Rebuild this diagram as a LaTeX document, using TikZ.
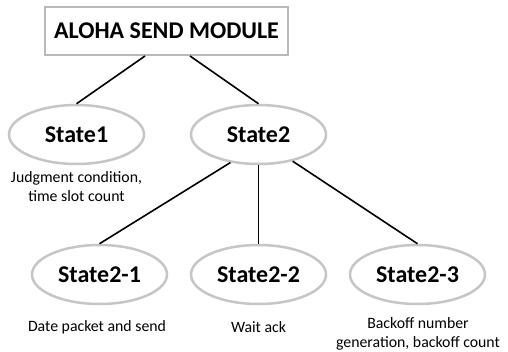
\documentclass[tikz,border=0pt]{standalone}
\usepackage{fontspec}
\setmainfont{Carlito}
\usetikzlibrary{shapes.geometric}
\begin{document}
\begin{tikzpicture}[x=1pt,y=-1pt,
  titlebox/.style={draw=gray!55, line width=2pt, fill=white, minimum width=243pt,
    minimum height=48pt, inner sep=0pt, font=\fontsize{24}{26}\selectfont\bfseries},
  statenode/.style={ellipse, draw=gray!45, line width=2.5pt, minimum width=135pt,
    minimum height=59pt, inner sep=0pt, font=\fontsize{24}{26}\selectfont\bfseries},
  note/.style={align=center, inner sep=0pt, font=\fontsize{15.8}{19}\selectfont},
  link/.style={draw=black, line width=1.6pt}]
\useasboundingbox (0,0) rectangle (508,352);
\fill[white] (0,0) rectangle (508,352);

\node[titlebox] (top) at (166.5,31) {ALOHA SEND MODULE};
\node[statenode] (s1) at (76.5,134.5) {State1};
\node[statenode] (s2) at (258.5,134.5) {State2};
\node[statenode] (s21) at (99.5,274.5) {State2-1};
\node[statenode] (s22) at (258.5,274.5) {State2-2};
\node[statenode] (s23) at (417.5,274.5) {State2-3};

\node[note] (n1) at (76.5,187) {Judgment condition,\\time slot count};
\node[note] (n21) at (97,327) {Date packet and send};
\node[note] (n22) at (258.5,327) {Wait ack};
\node[note] (n23) at (418,334) {Backoff number\\generation, backoff count};

\draw[link] ([xshift=-21.5pt]top.south) -- (s1.north);
\draw[link] ([xshift=23.5pt]top.south) -- (s2.north);
\draw[link] (s2.225) -- (s21.north);
\draw[link] (s2.south) -- (s22.north);
\draw[link] (s2.322) -- (s23.north);
\end{tikzpicture}
\end{document}
